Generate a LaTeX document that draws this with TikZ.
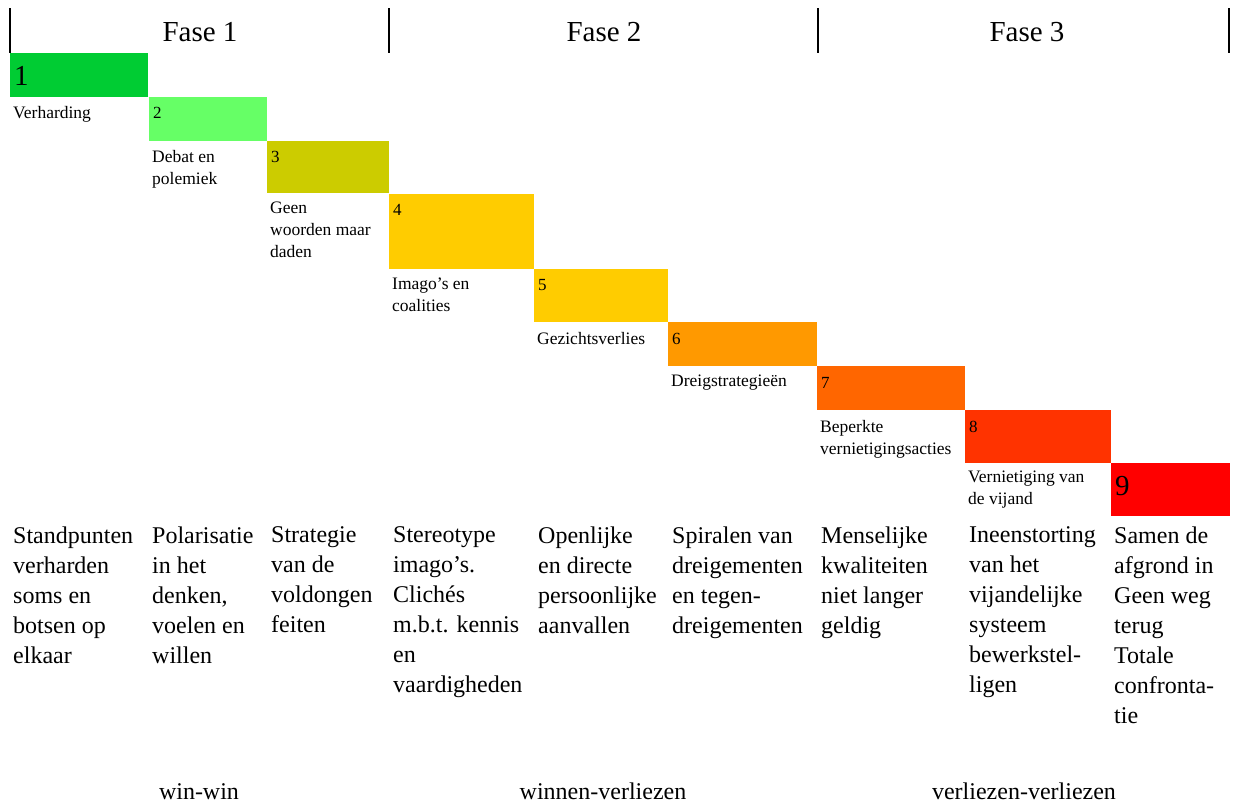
\documentclass[tikz,border=0pt]{standalone}
\usepackage{fontspec}
\setmainfont{Liberation Serif}
\definecolor{c1}{HTML}{00CC33}
\definecolor{c2}{HTML}{66FF66}
\definecolor{c3}{HTML}{CCCC00}
\definecolor{c4}{HTML}{FFCC00}
\definecolor{c6}{HTML}{FF9900}
\definecolor{c7}{HTML}{FF6600}
\definecolor{c8}{HTML}{FF3300}
\definecolor{c9}{HTML}{FF0000}
\begin{document}
\begin{tikzpicture}[x=1pt,y=-1pt,
  stage/.style={anchor=north west,inner sep=0pt,outer sep=0pt,draw=none},
  num/.style={anchor=base west,inner sep=0pt,font=\fontsize{17}{20}\selectfont},
  bignum/.style={anchor=base west,inner sep=0pt,font=\fontsize{29}{32}\selectfont},
  lbl/.style={anchor=north west,inner sep=0pt,align=left,font=\fontsize{17.5}{22}\selectfont},
  desc/.style={anchor=north west,inner sep=0pt,align=left,font=\fontsize{24}{30}\selectfont},
  fase/.style={anchor=base,inner sep=0pt,font=\fontsize{29}{32}\selectfont},
  res/.style={anchor=base,inner sep=0pt,font=\fontsize{24}{28}\selectfont},
  bar/.style={line width=2.5pt}]
\useasboundingbox (0,0) rectangle (1233,803);

% phase bars
\draw[bar] (10,8) -- (10,53);
\draw[bar] (389,8) -- (389,53);
\draw[bar] (818,8) -- (818,53);
\draw[bar] (1229,8) -- (1229,53);

\node[fase] (f1) at (200,41) {Fase 1};
\node[fase] (f2) at (604,41) {Fase 2};
\node[fase] (f3) at (1027,41) {Fase 3};

% stage boxes
\node[stage,fill=c1,minimum width=138pt,minimum height=44pt] (b1) at (10,53) {};
\node[stage,fill=c2,minimum width=118pt,minimum height=44pt] (b2) at (149,97) {};
\node[stage,fill=c3,minimum width=122pt,minimum height=52pt] (b3) at (267,141) {};
\node[stage,fill=c4,minimum width=145pt,minimum height=75pt] (b4) at (389,194) {};
\node[stage,fill=c4,minimum width=134pt,minimum height=53pt] (b5) at (534,269) {};
\node[stage,fill=c6,minimum width=149pt,minimum height=44pt] (b6) at (668,322) {};
\node[stage,fill=c7,minimum width=148pt,minimum height=44pt] (b7) at (817,366) {};
\node[stage,fill=c8,minimum width=146pt,minimum height=53pt] (b8) at (965,410) {};
\node[stage,fill=c9,minimum width=119pt,minimum height=53pt] (b9) at (1111,463) {};

% numbers
\node[bignum] (n1) at (14,85) {1};
\node[num] (n2) at (153,118) {2};
\node[num] (n3) at (271,162) {3};
\node[num] (n4) at (393,215) {4};
\node[num] (n5) at (538,290) {5};
\node[num] (n6) at (672,344) {6};
\node[num] (n7) at (821,388) {7};
\node[num] (n8) at (969,432) {8};
\node[bignum] (n9) at (1115,495) {9};

% stage labels
\node[lbl] (l1) at (13,106) {Verharding};
\node[lbl] (l2) at (152,150) {Debat en\\polemiek};
\node[lbl] (l3) at (270,202) {Geen\\woorden maar\\daden};
\node[lbl] (l4) at (392,278) {Imago’s en\\coalities};
\node[lbl] (l5) at (537,332) {Gezichtsverlies};
\node[lbl] (l6) at (671,375) {Dreigstrategieën};
\node[lbl] (l7) at (820,420) {Beperkte\\vernietigingsacties};
\node[lbl] (l8) at (968,471) {Vernietiging van\\de vijand};

% descriptions
\node[desc] (d1) at (13,526.5) {Standpunten\\verharden\\soms en\\botsen op\\elkaar};
\node[desc] (d2) at (152,526.5) {Polarisatie\\in het\\denken,\\voelen en\\willen};
\node[desc] (d3) at (271,526.5) {Strategie\\van de\\voldongen\\feiten};
\node[desc] (d4) at (393,526.5) {Stereotype\\imago’s.\\Clichés\\m.b.t. kennis\\en\\vaardigheden};
\node[desc] (d5) at (538,526.5) {Openlijke\\en directe\\persoonlijke\\aanvallen};
\node[desc] (d6) at (672,526.5) {Spiralen van\\dreigementen\\en tegen-\\dreigementen};
\node[desc] (d7) at (821,526.5) {Menselijke\\kwaliteiten\\niet langer\\geldig};
\node[desc] (d8) at (969,526.5) {Ineenstorting\\van het\\vijandelijke\\systeem\\bewerkstel-\\ligen};
\node[desc] (d9) at (1114,526.5) {Samen de\\afgrond in\\Geen weg\\terug\\Totale\\confronta-\\tie};

% results
\node[res] (r1) at (199,799) {win-win};
\node[res] (r2) at (603,799) {winnen-verliezen};
\node[res] (r3) at (1024,799) {verliezen-verliezen};
\end{tikzpicture}
\end{document}
